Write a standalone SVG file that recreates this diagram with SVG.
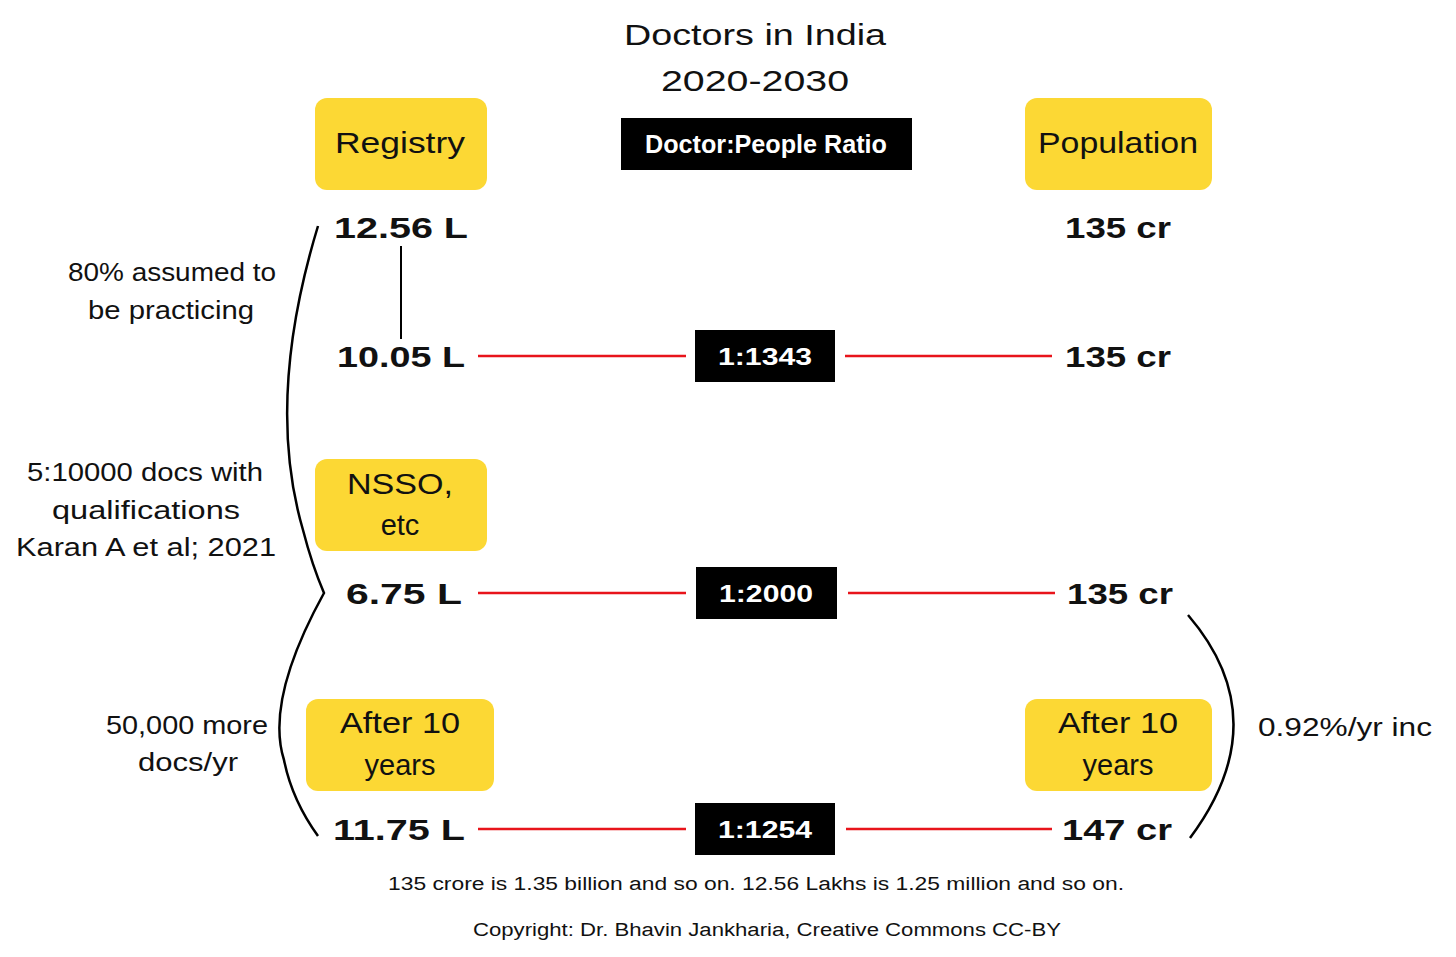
<svg xmlns="http://www.w3.org/2000/svg" width="1456" height="957" viewBox="0 0 1456 957">
<style>
text{font-family:"Liberation Sans","DejaVu Sans",sans-serif;fill:#111;dominant-baseline:central;text-anchor:middle}
.ybox{fill:#FCD834}
.bbox{fill:#000}
.wt{fill:#fff;font-weight:bold}
.val{font-size:30px;font-weight:bold}
.lbl{font-size:29px}
.note{font-size:25px}
.red{stroke:#E8141B;stroke-width:2.5;fill:none}
.brk{stroke:#000;stroke-width:2.5;fill:none}
</style>
<rect width="1456" height="957" fill="#fff"/>
<g id="title">
<text x="755" y="34" font-size="30" textLength="262" lengthAdjust="spacingAndGlyphs">Doctors in India</text>
<text x="755" y="80" font-size="30" textLength="188" lengthAdjust="spacingAndGlyphs">2020-2030</text>
</g>
<g id="ratio-header"><rect class="bbox" x="621" y="118" width="291" height="52"/><text class="wt" x="766" y="144" font-size="25" textLength="242" lengthAdjust="spacingAndGlyphs">Doctor:People Ratio</text></g>
<g id="registry"><rect class="ybox" x="315" y="98" width="172" height="92" rx="12"/><text class="lbl" x="400" y="143" textLength="130" lengthAdjust="spacingAndGlyphs">Registry</text></g>
<g id="population"><rect class="ybox" x="1025" y="98" width="187" height="92" rx="12"/><text class="lbl" x="1118" y="143" textLength="160" lengthAdjust="spacingAndGlyphs">Population</text></g>
<g id="nsso"><rect class="ybox" x="315" y="459" width="172" height="92" rx="12"/><text class="lbl" x="400" y="484" textLength="106" lengthAdjust="spacingAndGlyphs">NSSO,</text><text class="lbl" x="400" y="525">etc</text></g>
<g id="after-left"><rect class="ybox" x="306" y="699" width="188" height="92" rx="12"/><text class="lbl" x="400" y="723" textLength="120" lengthAdjust="spacingAndGlyphs">After 10</text><text class="lbl" x="400" y="765">years</text></g>
<g id="after-right"><rect class="ybox" x="1025" y="699" width="187" height="92" rx="12"/><text class="lbl" x="1118" y="723" textLength="120" lengthAdjust="spacingAndGlyphs">After 10</text><text class="lbl" x="1118" y="765">years</text></g>
<g id="v1"><text class="val" x="401" y="227" textLength="134" lengthAdjust="spacingAndGlyphs">12.56 L</text></g>
<g id="p1"><text class="val" x="1118" y="227" textLength="106" lengthAdjust="spacingAndGlyphs">135 cr</text></g>
<g id="v2"><text class="val" x="401" y="356" textLength="128" lengthAdjust="spacingAndGlyphs">10.05 L</text></g>
<g id="p2"><text class="val" x="1118" y="356" textLength="106" lengthAdjust="spacingAndGlyphs">135 cr</text></g>
<g id="v3"><text class="val" x="404" y="593" textLength="116" lengthAdjust="spacingAndGlyphs">6.75 L</text></g>
<g id="p3"><text class="val" x="1120" y="593" textLength="106" lengthAdjust="spacingAndGlyphs">135 cr</text></g>
<g id="v4"><text class="val" x="399" y="829" textLength="132" lengthAdjust="spacingAndGlyphs">11.75 L</text></g>
<g id="p4"><text class="val" x="1117" y="829" textLength="110" lengthAdjust="spacingAndGlyphs">147 cr</text></g>
<g id="r1"><rect class="bbox" x="695" y="330" width="140" height="52"/><text class="wt" x="765" y="357" font-size="23" textLength="94" lengthAdjust="spacingAndGlyphs">1:1343</text></g>
<g id="r2"><rect class="bbox" x="696" y="567" width="141" height="52"/><text class="wt" x="766" y="594" font-size="23" textLength="94" lengthAdjust="spacingAndGlyphs">1:2000</text></g>
<g id="r3"><rect class="bbox" x="695" y="803" width="140" height="52"/><text class="wt" x="765" y="830" font-size="23" textLength="94" lengthAdjust="spacingAndGlyphs">1:1254</text></g>
<g id="notes">
<text class="note" x="172" y="272" textLength="208" lengthAdjust="spacingAndGlyphs">80% assumed to</text>
<text class="note" x="171" y="310" textLength="166" lengthAdjust="spacingAndGlyphs">be practicing</text>
<text class="note" x="145" y="472" textLength="236" lengthAdjust="spacingAndGlyphs">5:10000 docs with</text>
<text class="note" x="146" y="510" textLength="188" lengthAdjust="spacingAndGlyphs">qualifications</text>
<text class="note" x="146" y="547" textLength="260" lengthAdjust="spacingAndGlyphs">Karan A et al; 2021</text>
<text class="note" x="187" y="725" textLength="162" lengthAdjust="spacingAndGlyphs">50,000 more</text>
<text class="note" x="188" y="762" textLength="100" lengthAdjust="spacingAndGlyphs">docs/yr</text>
<text class="note" x="1345" y="727" textLength="174" lengthAdjust="spacingAndGlyphs">0.92%/yr inc</text>
</g>
<g id="footer">
<text x="756" y="884" font-size="18" textLength="736" lengthAdjust="spacingAndGlyphs">135 crore is 1.35 billion and so on. 12.56 Lakhs is 1.25 million and so on.</text>
<text x="767" y="930" font-size="18" textLength="588" lengthAdjust="spacingAndGlyphs">Copyright: Dr. Bhavin Jankharia, Creative Commons CC-BY</text>
</g>
<g id="connectors">
<line x1="401" y1="246" x2="401" y2="339" stroke="#000" stroke-width="2"/>
<line class="red" x1="478" y1="356" x2="686" y2="356"/>
<line class="red" x1="845" y1="356" x2="1052" y2="356"/>
<line class="red" x1="478" y1="593" x2="686" y2="593"/>
<line class="red" x1="848" y1="593" x2="1055" y2="593"/>
<line class="red" x1="478" y1="829" x2="686" y2="829"/>
<line class="red" x1="846" y1="829" x2="1052" y2="829"/>
<path class="brk" d="M318,226 Q265,400 303,530 Q312,565 324,593 Q265,700 284,760 Q292,800 318,836"/>
<path class="brk" d="M1188,615 Q1278,720 1190,838"/>
</g>
</svg>
